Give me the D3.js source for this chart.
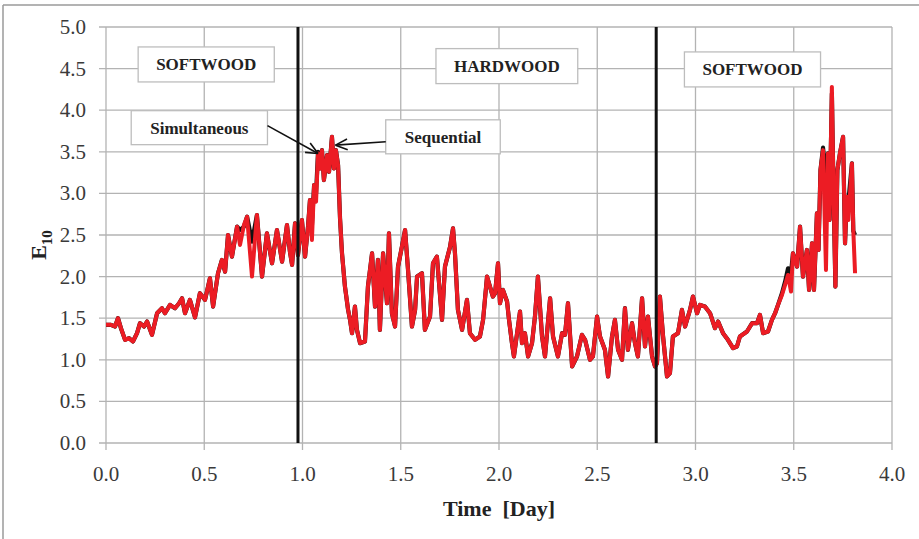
<!DOCTYPE html>
<html>
<head>
<meta charset="utf-8">
<script src="https://cdn.jsdelivr.net/npm/d3@7"></script>
<style>
  html, body { margin: 0; padding: 0; background: #fff; }
  svg { display: block; }
  .tick-label { font-family: "Liberation Serif", "Times New Roman", serif; font-size: 21px; fill: #3a3a3a; }
  .box-label { font-family: "Liberation Serif", "Times New Roman", serif; font-size: 17px; font-weight: bold; fill: #222; }
  .axis-title { font-family: "Liberation Serif", "Times New Roman", serif; font-size: 22px; font-weight: bold; fill: #222; }
</style>
</head>
<body>
<svg id="chart" width="919" height="539"></svg>
<script>
// Time in days
const days = [
  0.000, 0.025, 0.046, 0.061, 0.076, 0.097, 0.117, 0.137, 0.158, 0.173,
  0.193, 0.209, 0.234, 0.260, 0.285, 0.300, 0.326, 0.351, 0.372, 0.387,
  0.402, 0.427, 0.453, 0.478, 0.504, 0.529, 0.545, 0.570, 0.590, 0.606,
  0.621, 0.641, 0.667, 0.682, 0.702, 0.718, 0.743, 0.768, 0.794, 0.819,
  0.845, 0.870, 0.896, 0.921, 0.936, 0.947, 0.962, 0.977, 0.997, 1.013,
  1.028, 1.038, 1.048, 1.059, 1.069, 1.079, 1.089, 1.099, 1.109, 1.125,
  1.135, 1.150, 1.160, 1.170, 1.181, 1.191, 1.201, 1.216, 1.232, 1.242,
  1.252, 1.267, 1.277, 1.293, 1.318, 1.333, 1.354, 1.369, 1.384, 1.394,
  1.410, 1.430, 1.440, 1.455, 1.471, 1.486, 1.506, 1.522, 1.537, 1.557,
  1.573, 1.583, 1.608, 1.623, 1.649, 1.664, 1.684, 1.710, 1.725, 1.751,
  1.766, 1.776, 1.791, 1.812, 1.837, 1.852, 1.878, 1.903, 1.919, 1.939,
  1.954, 1.969, 1.980, 1.995, 2.005, 2.020, 2.041, 2.051, 2.066, 2.076,
  2.092, 2.107, 2.117, 2.132, 2.148, 2.168, 2.183, 2.198, 2.219, 2.234,
  2.260, 2.275, 2.300, 2.321, 2.336, 2.351, 2.372, 2.397, 2.422, 2.438,
  2.463, 2.478, 2.499, 2.514, 2.539, 2.555, 2.575, 2.590, 2.606, 2.626,
  2.641, 2.656, 2.677, 2.692, 2.707, 2.728, 2.743, 2.758, 2.779, 2.794,
  2.804, 2.819, 2.835, 2.855, 2.870, 2.885, 2.911, 2.931, 2.947, 2.972,
  2.987, 3.008, 3.023, 3.048, 3.074, 3.099, 3.115, 3.140, 3.165, 3.191,
  3.211, 3.226, 3.262, 3.288, 3.313, 3.328, 3.344, 3.369, 3.389, 3.405,
  3.420, 3.440, 3.456, 3.471, 3.486, 3.496, 3.517, 3.532, 3.547, 3.567,
  3.578, 3.593, 3.603, 3.618, 3.626, 3.636, 3.649, 3.664, 3.674, 3.682,
  3.694, 3.702, 3.712, 3.722, 3.735, 3.751, 3.761, 3.770, 3.778, 3.796,
  3.803, 3.812
];

// E10 – sequential estimation (red)
const sequential = [
  1.42, 1.42, 1.40, 1.50, 1.38, 1.24, 1.26, 1.22, 1.32, 1.44,
  1.40, 1.46, 1.30, 1.56, 1.62, 1.56, 1.66, 1.62, 1.68, 1.74,
  1.56, 1.72, 1.51, 1.80, 1.72, 1.98, 1.64, 2.04, 2.20, 2.06,
  2.50, 2.24, 2.60, 2.38, 2.62, 2.72, 2.00, 2.74, 2.00, 2.52,
  2.16, 2.56, 2.18, 2.62, 2.30, 2.14, 2.64, 2.26, 2.68, 2.24,
  2.60, 2.92, 2.44, 3.10, 2.90, 3.48, 3.30, 3.52, 3.16, 3.46,
  3.26, 3.68, 3.30, 3.52, 3.34, 2.70, 2.28, 1.88, 1.60, 1.48,
  1.32, 1.64, 1.36, 1.20, 1.22, 1.88, 2.28, 1.64, 2.20, 1.36,
  2.28, 1.68, 2.52, 1.56, 1.40, 2.12, 2.36, 2.56, 2.08, 1.40,
  1.60, 2.00, 2.04, 1.36, 1.52, 2.16, 2.24, 1.48, 2.12, 2.36,
  2.58, 2.28, 1.60, 1.36, 1.72, 1.32, 1.24, 1.28, 1.48, 2.00,
  1.88, 1.76, 1.80, 2.16, 1.68, 1.84, 1.70, 1.48, 1.20, 1.04,
  1.32, 1.58, 1.20, 1.32, 1.04, 1.20, 1.52, 2.00, 1.28, 1.04,
  1.74, 1.28, 1.04, 1.32, 1.30, 1.68, 0.92, 1.04, 1.30, 1.24,
  1.00, 1.04, 1.52, 1.28, 1.12, 0.80, 1.28, 1.48, 1.12, 1.00,
  1.62, 1.12, 1.44, 1.20, 1.04, 1.74, 1.16, 1.52, 1.04, 0.92,
  0.96, 1.76, 1.28, 0.80, 0.84, 1.28, 1.32, 1.60, 1.40, 1.60,
  1.76, 1.56, 1.66, 1.64, 1.56, 1.38, 1.46, 1.32, 1.24, 1.14,
  1.16, 1.28, 1.34, 1.44, 1.44, 1.54, 1.32, 1.34, 1.48, 1.56,
  1.66, 1.78, 1.90, 2.02, 1.82, 2.28, 2.12, 2.60, 2.00, 2.32,
  1.84, 2.40, 1.84, 2.76, 2.32, 3.28, 3.52, 2.08, 3.48, 2.68,
  4.28, 3.08, 1.88, 3.28, 3.48, 3.68, 2.40, 2.96, 2.68, 3.36,
  2.56, 2.04
];

// E10 – simultaneous estimation (black)
const simultaneous = [
  1.42, 1.42, 1.40, 1.50, 1.38, 1.24, 1.26, 1.22, 1.32, 1.44,
  1.40, 1.46, 1.30, 1.56, 1.62, 1.56, 1.66, 1.62, 1.68, 1.74,
  1.56, 1.72, 1.51, 1.80, 1.72, 1.98, 1.64, 2.04, 2.20, 2.06,
  2.50, 2.24, 2.60, 2.56, 2.60, 2.72, 2.42, 2.74, 2.00, 2.52,
  2.16, 2.56, 2.18, 2.62, 2.30, 2.14, 2.64, 2.26, 2.68, 2.24,
  2.60, 2.92, 2.62, 3.10, 3.00, 3.50, 3.30, 3.52, 3.16, 3.46,
  3.26, 3.68, 3.30, 3.52, 3.34, 2.70, 2.28, 1.88, 1.60, 1.48,
  1.32, 1.64, 1.36, 1.20, 1.22, 1.88, 2.28, 1.64, 2.20, 1.36,
  2.28, 1.68, 2.52, 1.56, 1.40, 2.12, 2.36, 2.56, 2.08, 1.40,
  1.60, 2.00, 2.04, 1.36, 1.52, 2.16, 2.24, 1.48, 2.12, 2.36,
  2.58, 2.28, 1.60, 1.36, 1.72, 1.32, 1.24, 1.28, 1.48, 2.00,
  1.88, 1.76, 1.80, 2.16, 1.68, 1.84, 1.70, 1.48, 1.20, 1.04,
  1.32, 1.58, 1.20, 1.32, 1.04, 1.20, 1.52, 2.00, 1.28, 1.04,
  1.74, 1.28, 1.04, 1.32, 1.30, 1.68, 0.92, 1.04, 1.30, 1.24,
  1.00, 1.04, 1.52, 1.28, 1.12, 0.80, 1.28, 1.48, 1.12, 1.00,
  1.62, 1.12, 1.44, 1.20, 1.04, 1.74, 1.16, 1.52, 1.04, 0.92,
  0.96, 1.76, 1.28, 0.80, 0.84, 1.28, 1.32, 1.60, 1.40, 1.60,
  1.76, 1.56, 1.66, 1.64, 1.56, 1.38, 1.46, 1.32, 1.24, 1.14,
  1.16, 1.28, 1.34, 1.44, 1.44, 1.54, 1.32, 1.34, 1.48, 1.56,
  1.66, 1.80, 1.94, 2.10, 2.04, 2.28, 2.12, 2.60, 2.00, 2.32,
  1.84, 2.40, 1.84, 2.76, 2.32, 3.28, 3.55, 3.20, 3.48, 2.68,
  4.20, 3.08, 1.88, 3.28, 3.48, 3.68, 2.40, 2.96, 2.90, 3.36,
  2.55, 2.50
];

const xTicks = [0, 0.5, 1.0, 1.5, 2.0, 2.5, 3.0, 3.5, 4.0];
const yTicks = [0, 0.5, 1.0, 1.5, 2.0, 2.5, 3.0, 3.5, 4.0, 4.5, 5.0];

// Boundaries between wood types (days)
const switchDays = [0.977, 2.80];

// Region labels: [text, centre day, centre E10]
const regionLabels = [
  ["SOFTWOOD", 0.51, 4.55],
  ["HARDWOOD", 2.04, 4.53],
  ["SOFTWOOD", 3.29, 4.49]
];

// Series callouts: [text, label centre day, label centre E10, target day, target E10]
const callouts = [
  ["Simultaneous", 0.475, 3.79, 1.079, 3.48],
  ["Sequential", 1.715, 3.68, 1.168, 3.58]
];

const svg = d3.select("#chart");
const W = 919, H = 539;

const x = d3.scaleLinear().domain([0, 4]).range([106, 892]);
const y = d3.scaleLinear().domain([0, 5]).range([443, 27]);

// Outer frame
svg.append("line").attr("x1", 3).attr("x2", W).attr("y1", 5).attr("y2", 5)
  .attr("stroke", "#9a9a9a").attr("stroke-width", 1.5);
svg.append("line").attr("x1", 3).attr("x2", 3).attr("y1", 5).attr("y2", H)
  .attr("stroke", "#9a9a9a").attr("stroke-width", 1.5);

const gridColor = "#b3b3b3";

// Horizontal grid with short ticks to the left
svg.append("g").selectAll("line").data(yTicks).join("line")
  .attr("x1", x(0) - 7).attr("x2", x(4))
  .attr("y1", d => y(d)).attr("y2", d => y(d))
  .attr("stroke", gridColor).attr("stroke-width", 1.3);

// Vertical grid with short ticks below
svg.append("g").selectAll("line").data(xTicks).join("line")
  .attr("x1", d => x(d)).attr("x2", d => x(d))
  .attr("y1", y(5)).attr("y2", y(0) + 7)
  .attr("stroke", gridColor).attr("stroke-width", 1.3);

// Tick labels
svg.append("g").selectAll("text").data(yTicks).join("text")
  .attr("class", "tick-label")
  .attr("x", x(0) - 20).attr("y", d => y(d) + 7)
  .attr("text-anchor", "end")
  .text(d => d3.format(".1f")(d));

svg.append("g").selectAll("text").data(xTicks).join("text")
  .attr("class", "tick-label")
  .attr("x", d => x(d)).attr("y", y(0) + 38)
  .attr("text-anchor", "middle")
  .text(d => d3.format(".1f")(d));

// Axis titles
svg.append("text").attr("class", "axis-title")
  .attr("x", 499).attr("y", 516)
  .attr("text-anchor", "middle")
  .attr("xml:space", "preserve")
  .style("white-space", "pre")
  .text("Time  [Day]");

const yt = svg.append("text").attr("class", "axis-title")
  .attr("transform", `translate(46, ${y(2.5) + 10}) rotate(-90)`)
  .attr("text-anchor", "middle");
yt.append("tspan").text("E");
yt.append("tspan").attr("dy", 6).attr("font-size", 15).text("10");

// Data lines
const pts = (vals) => days.map((d, i) => [d, vals[i]]);
const line = d3.line().x(d => x(d[0])).y(d => y(d[1]));

svg.append("path").datum(pts(simultaneous))
  .attr("d", line).attr("fill", "none")
  .attr("stroke", "#111").attr("stroke-width", 4.2)
  .attr("stroke-linejoin", "round");

svg.append("path").datum(pts(sequential))
  .attr("d", line).attr("fill", "none")
  .attr("stroke", "#ec1c24").attr("stroke-width", 4)
  .attr("stroke-linejoin", "round");

// Wood-type switch markers
svg.append("g").selectAll("line").data(switchDays).join("line")
  .attr("x1", d => x(d)).attr("x2", d => x(d))
  .attr("y1", y(5)).attr("y2", y(0))
  .attr("stroke", "#111").attr("stroke-width", 3);

// Labelled boxes
function labelBox(text, cx, cy, padX, h) {
  const g = svg.append("g");
  const t = g.append("text").attr("class", "box-label")
    .attr("x", cx).attr("y", cy + 6)
    .attr("text-anchor", "middle").text(text);
  const w = t.node().getComputedTextLength() + 2 * padX;
  g.insert("rect", "text")
    .attr("x", cx - w / 2).attr("y", cy - h / 2)
    .attr("width", w).attr("height", h)
    .attr("fill", "#fff").attr("stroke", "#bdbdbd").attr("stroke-width", 1.3);
  return { left: cx - w / 2, right: cx + w / 2 };
}

regionLabels.forEach(([t, d, v]) => labelBox(t, x(d), y(v), 18, 35));

// Callout arrows
function arrow(x1, y1, x2, y2) {
  const ang = Math.atan2(y2 - y1, x2 - x1);
  const len = 13, spread = 0.42;
  const g = svg.append("g").attr("stroke", "#111").attr("stroke-width", 1.6).attr("fill", "none");
  g.append("line").attr("x1", x1).attr("y1", y1).attr("x2", x2).attr("y2", y2);
  [ang + Math.PI - spread, ang + Math.PI + spread].forEach(a => {
    g.append("line").attr("x1", x2).attr("y1", y2)
      .attr("x2", x2 + len * Math.cos(a)).attr("y2", y2 + len * Math.sin(a));
  });
}

callouts.forEach(([t, d, v, td, tv], i) => {
  const b = labelBox(t, x(d), y(v), 19, 34);
  const sx = i === 0 ? b.right : b.left;
  const sy = i === 0 ? y(v) - 2 : y(v) + 5;
  arrow(sx, sy, x(td), y(tv));
});
</script>
</body>
</html>
